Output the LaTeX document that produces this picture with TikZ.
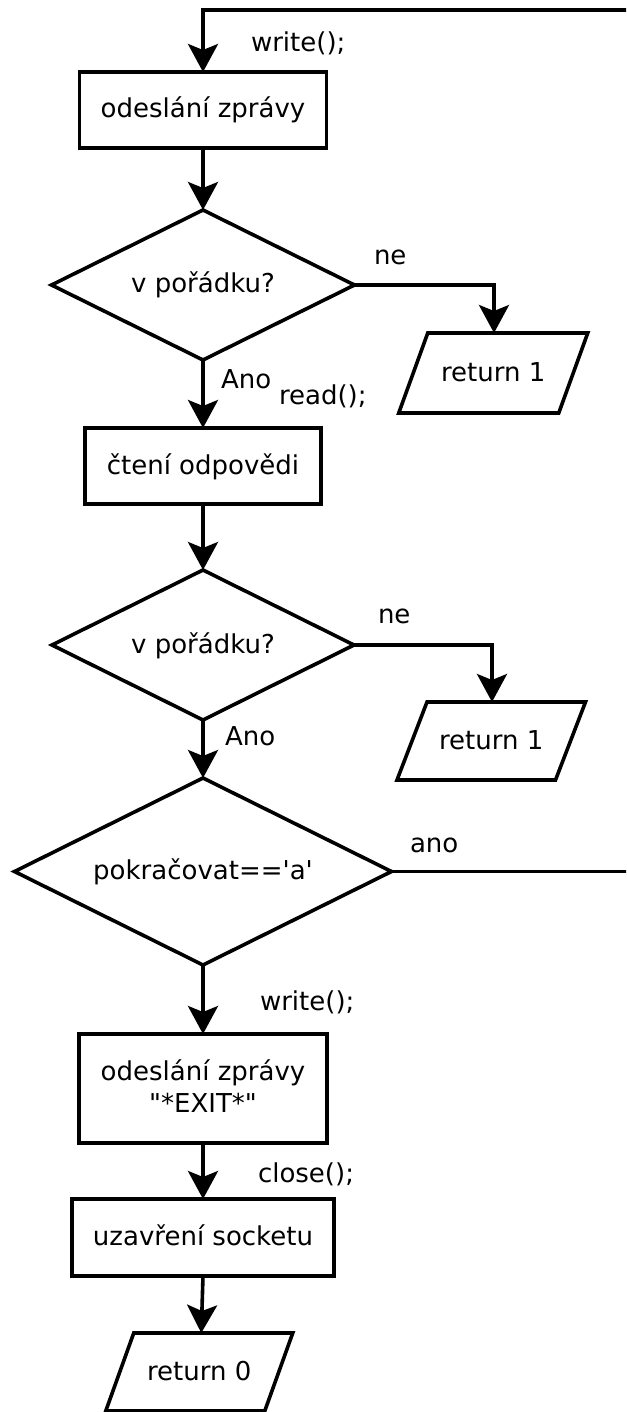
\documentclass[tikz,border=0pt]{standalone}
\usepackage{fontspec}
\setmainfont{DejaVu Sans}
\usetikzlibrary{arrows.meta,shapes.geometric,calc}
\newcommand{\iobox}[4]{\draw[shapeline] ([shift={({-#2/2+#3/2},{-#4/2})}]#1.center) -- ([shift={({#2/2+#3/2},{-#4/2})}]#1.center) -- ([shift={({#2/2-#3/2},{#4/2})}]#1.center) -- ([shift={({-#2/2-#3/2},{#4/2})}]#1.center) -- cycle;}
\begin{document}
\begin{tikzpicture}[x=1pt,y=-1pt,
  every node/.style={font=\fontsize{26}{32}\selectfont, inner sep=0pt, outer sep=0pt},
  shapeline/.style={line width=3.6pt, line join=miter},
  txt/.style={text height=20.5pt, text depth=4.5pt},
  procbox/.style={draw, shapeline, rectangle, txt},
  decbox/.style={draw, shapeline, diamond, shape aspect=2, txt},
  iotext/.style={rectangle, txt},
  lbl/.style={anchor=base west},
  flow/.style={line width=3.6pt, -{Stealth[length=28pt,width=30pt,inset=6pt]}},
  plain/.style={line width=3.6pt}
]
\clip (0,0) rectangle (626,1412);
\fill[white] (0,0) rectangle (626,1412);

% nodes
\node[procbox, minimum width=247pt, minimum height=76pt] (b1) at (203,110) {odeslání zprávy};
\node[decbox, minimum width=303pt, minimum height=150pt] (d1) at (203,285) {v pořádku?};
\node[iotext, minimum width=130pt, minimum height=80pt] (p1) at (493.25,373) {return 1};
\node[procbox, minimum width=236pt, minimum height=76pt] (b2) at (203,466) {čtení odpovědi};
\node[decbox, minimum width=302pt, minimum height=150pt] (d2) at (203,645) {v pořádku?};
\node[iotext, minimum width=128pt, minimum height=78pt] (p2) at (491.25,741) {return 1};
\node[decbox, minimum width=377pt, minimum height=187pt] (d3) at (203,871.5) {pokračovat==\textquotesingle a\textquotesingle};
\node[draw, shapeline, rectangle, align=center, text height=52.5pt, text depth=4.5pt, minimum width=248pt, minimum height=109pt] (b3) at (203,1088.5) {odeslání zprávy\\\textquotedbl*EXIT*\textquotedbl};
\node[procbox, minimum width=262pt, minimum height=77pt] (b4) at (203,1237.5) {uzavření socketu};
\node[iotext, minimum width=130pt, minimum height=78pt] (p3) at (199.25,1372) {return 0};

\iobox{p1}{160}{29}{80}
\iobox{p2}{158.5}{30}{78}
\iobox{p3}{159}{28}{78}

% labels
\node[lbl] (w1) at (251,52) {write();};
\node[lbl] (ne1) at (374,265) {ne};
\node[lbl] (an1) at (221,388) {Ano};
\node[lbl] (rd) at (279,404) {read();};
\node[lbl] (ne2) at (378,623) {ne};
\node[lbl] (an2) at (225,745) {Ano};
\node[lbl] (an3) at (410,852) {ano};
\node[lbl] (w2) at (260,1010) {write();};
\node[lbl] (cl) at (258,1182) {close();};

% loop coordinates
\coordinate (lr) at (645,871.5);
\coordinate (lt) at (645,10);

% connectors
\draw[flow] (lt) -| (b1.north);
\draw[plain] (d3.east) -- (lr) -- (lt);
\draw[flow] (b1.south) -- (d1.north);
\draw[flow] (d1.east) -| ([xshift=0.75pt]p1.north);
\draw[flow] (d1.south) -- (b2.north);
\draw[flow] (b2.south) -- (d2.north);
\draw[flow] (d2.east) -| ([xshift=0.75pt]p2.north);
\draw[flow] (d2.south) -- (d3.north);
\draw[flow] (d3.south) -- (b3.north);
\draw[flow] (b3.south) -- (b4.north);
\draw[flow] (b4.south) -- ([xshift=2pt]p3.north);
\end{tikzpicture}
\end{document}
